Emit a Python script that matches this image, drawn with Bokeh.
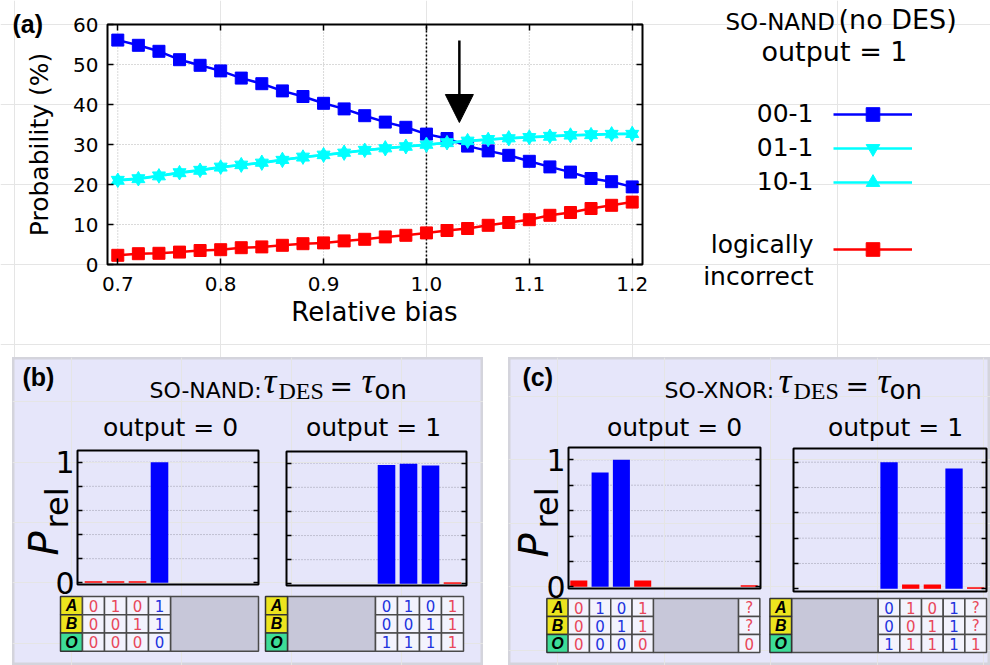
import math
from bokeh.plotting import figure
from bokeh.models import (Range1d, LinearAxis, FixedTicker, Label, Legend, LegendItem,
                          Arrow, NormalHead, BoxAnnotation, Spacer)
from bokeh.layouts import row, column
from bokeh.embed import file_html
from bokeh.resources import INLINE
from bokeh.core.properties import value

FONT = "DejaVu Sans"
SERIF = "Liberation Serif"
BOLD = "Liberation Sans"
BLUE = "#0000ff"
CYAN = "#00ffff"
RED = "#ff0000"
LAV = "#e6e6fa"
TAB_RED = "#e8485a"
TAB_BLUE = "#2233dd"

# ---------------- data: panel (a) ----------------
bias = [0.70, 0.72, 0.74, 0.76, 0.78, 0.80, 0.82, 0.84, 0.86, 0.88, 0.90, 0.92, 0.94,
        0.96, 0.98, 1.00, 1.02, 1.04, 1.06, 1.08, 1.10, 1.12, 1.14, 1.16, 1.18, 1.20]
p_00_1 = [56.1, 54.8, 53.3, 51.2, 49.8, 48.4, 46.6, 45.2, 43.4, 42.0, 40.3, 38.9, 37.2,
          35.6, 34.3, 32.6, 31.5, 29.6, 28.4, 27.3, 25.8, 24.4, 23.1, 21.5, 20.7, 19.4]
p_01_1 = [21.1, 21.5, 22.2, 23.0, 23.6, 24.4, 24.9, 25.4, 26.1, 26.9, 27.4, 27.9, 28.6,
          29.0, 29.5, 29.9, 30.5, 30.9, 31.3, 31.5, 31.8, 32.1, 32.3, 32.5, 32.6, 32.6]
p_10_1 = [21.0, 21.4, 22.1, 22.9, 23.5, 24.3, 24.9, 25.5, 26.2, 26.8, 27.4, 28.0, 28.5,
          29.1, 29.5, 30.0, 30.4, 30.9, 31.2, 31.6, 31.8, 32.0, 32.3, 32.4, 32.6, 32.7]
p_wrong = [2.3, 2.7, 2.8, 3.1, 3.5, 3.7, 4.2, 4.4, 4.8, 5.2, 5.4, 5.9, 6.3,
           6.9, 7.3, 7.9, 8.5, 9.0, 9.8, 10.5, 11.2, 12.3, 13.0, 14.0, 14.8, 15.6]
a_x_lim = (0.69, 1.21)
a_y_lim = (0, 60)
a_x_ticks = [0.7, 0.8, 0.9, 1.0, 1.1, 1.2]
a_x_tick_labels = ["0.7", "0.8", "0.9", "1.0", "1.1", "1.2"]
a_y_ticks = [0, 10, 20, 30, 40, 50, 60]
legend_labels = ["00-1", "01-1", "10-1"]
marked_bias = 1.0
arrow_bias = 1.032
arrow_from, arrow_to = 56.0, 35.5

# ---------------- data: panels (b), (c) ----------------
prel_ticks = [0, 1]
prel_minor = [0.2, 0.4, 0.6, 0.8]
prel_all = [0, 0.2, 0.4, 0.6, 0.8, 1.0]
prel_grid = [0.2, 0.4, 0.6, 0.8, 1.0]
row_names = ["A", "B", "O"]
row_pos = [3, 2, 1]

b0_cols = [1, 2, 3, 4]
b0_prob = [0.012, 0.012, 0.012, 1.00]
b0_A = ["0", "1", "0", "1"]
b0_B = ["0", "0", "1", "1"]
b0_O = ["0", "0", "0", "0"]
b0_ok = [False, False, False, True]

b1_cols = [5, 6, 7, 8]
b1_prob = [0.985, 0.995, 0.98, 0.012]
b1_A = ["0", "1", "0", "1"]
b1_B = ["0", "0", "1", "1"]
b1_O = ["1", "1", "1", "1"]
b1_ok = [True, True, True, False]

c0_cols = [1, 2, 3, 4, 9]
c0_prob = [0.05, 0.90, 1.00, 0.05, 0.012]
c0_A = ["0", "1", "0", "1", "?"]
c0_B = ["0", "0", "1", "1", "?"]
c0_O = ["0", "0", "0", "0", "0"]
c0_ok = [False, True, True, False, False]

c1_cols = [5, 6, 7, 8, 9]
c1_prob = [1.00, 0.034, 0.034, 0.95, 0.012]
c1_A = ["0", "1", "0", "1", "?"]
c1_B = ["0", "0", "1", "1", "?"]
c1_O = ["1", "1", "1", "1", "1"]
c1_ok = [True, False, False, True, False]


def lin(v_a, p_a, v_b, p_b):
    return lambda p: v_a + (p - p_a) * (v_b - v_a) / (p_b - p_a)


def rng(f, total):
    a, b = f(0), f(total)
    return Range1d(min(a, b), max(a, b))


def add_grid(p, dim, ticks, cross, color, dash, xn="default", yn="default"):
    n = len(ticks)
    if dim == 0:
        p.segment(x0=ticks, x1=ticks, y0=[cross[0]] * n, y1=[cross[1]] * n,
                  line_color=color, line_dash=dash, line_width=1,
                  x_range_name=xn, y_range_name=yn, level="underlay")
    else:
        p.segment(x0=[cross[0]] * n, x1=[cross[1]] * n, y0=ticks, y1=ticks,
                  line_color=color, line_dash=dash, line_width=1,
                  x_range_name=xn, y_range_name=yn, level="underlay")


def bare_figure(w, h, xr, yr, **kw):
    p = figure(width=w, height=h, x_range=xr, y_range=yr, output_backend="svg",
               toolbar_location=None, x_axis_location=None, y_axis_location=None,
               min_border=0, **kw)
    p.title.text = ""
    p.title.visible = False
    return p


def frame_box(left, right, bottom, top, **kw):
    return BoxAnnotation(left=left, right=right, bottom=bottom, top=top,
                         fill_color=None, fill_alpha=0, line_color="black",
                         line_alpha=1.0, line_width=2, **kw)


# ================= panel (a) =================
WA, HA = 990, 357
FL, FR, FT, FB = 107, 642, 24, 264
fx = lin(a_x_lim[0], FL, a_x_lim[1], FR)
fy = lin(a_y_lim[1], FT, a_y_lim[0], FB)
pa = bare_figure(WA, HA, rng(fx, WA), rng(fy, HA))
pa.outline_line_color = None
pa.background_fill_color = "white"

tick_kw = dict(axis_line_color=None, major_tick_out=0, minor_tick_out=0,
               major_tick_line_color="black", minor_tick_line_color="black",
               major_tick_line_width=1.5, minor_tick_line_width=1.5)
ax_bottom = LinearAxis(fixed_location=a_y_lim[0], ticker=FixedTicker(ticks=a_x_ticks),
                       major_label_overrides=dict(zip(a_x_ticks, a_x_tick_labels)),
                       major_tick_in=6, major_label_standoff=12,
                       major_label_text_font=FONT, major_label_text_font_size="20px",
                       major_label_text_color="black", **tick_kw)
ax_bottom.minor_tick_line_color = None
pa.add_layout(ax_bottom, "below")
ax_left = LinearAxis(fixed_location=a_x_lim[0], ticker=FixedTicker(ticks=a_y_ticks),
                     major_tick_in=6, major_label_standoff=9,
                     major_label_text_font=FONT, major_label_text_font_size="20px",
                     major_label_text_color="black", **tick_kw)
ax_left.minor_tick_line_color = None
pa.add_layout(ax_left, "left")
pa.add_layout(LinearAxis(fixed_location=a_y_lim[1], ticker=FixedTicker(ticks=[], minor_ticks=a_x_ticks),
                         minor_tick_in=6, major_label_standoff=0, **tick_kw), "above")
pa.add_layout(LinearAxis(fixed_location=a_x_lim[1], ticker=FixedTicker(ticks=[], minor_ticks=a_y_ticks),
                         minor_tick_in=6, major_label_standoff=0, **tick_kw), "right")

add_grid(pa, 0, a_x_ticks, a_y_lim, "#b4b4b4", "1 2")
add_grid(pa, 1, a_y_ticks[1:-1], a_x_lim, "#b4b4b4", "1 2")

pa.segment(x0=[marked_bias], x1=[marked_bias], y0=[a_y_lim[0]], y1=[a_y_lim[1]],
           line_color="black", line_dash="2 2", line_width=1.5)

l00 = pa.line(bias, p_00_1, line_color=BLUE, line_width=2.5)
s00 = pa.scatter(bias, p_00_1, marker="square", size=12, fill_color=BLUE, line_color=BLUE)
l01 = pa.line(bias, p_01_1, line_color=CYAN, line_width=2.5)
s01 = pa.scatter(bias, p_01_1, marker="inverted_triangle", size=13, fill_color=CYAN, line_color=CYAN)
l10 = pa.line(bias, p_10_1, line_color=CYAN, line_width=2.5)
s10 = pa.scatter(bias, p_10_1, marker="triangle", size=13, fill_color=CYAN, line_color=CYAN)
lw = pa.line(bias, p_wrong, line_color=RED, line_width=2.5)
sw = pa.scatter(bias, p_wrong, marker="square", size=12, fill_color=RED, line_color=RED)

pa.add_layout(frame_box(a_x_lim[0], a_x_lim[1], a_y_lim[0], a_y_lim[1]))

pa.add_layout(Arrow(end=NormalHead(size=28, fill_color="black", line_color="black"),
                    x_start=arrow_bias, y_start=arrow_from, x_end=arrow_bias, y_end=arrow_to,
                    line_color="black", line_width=2.5))

legend_kw = dict(glyph_width=79, glyph_height=34, spacing=0, padding=0, margin=0,
                 label_standoff=0, border_line_color=None, background_fill_alpha=0,
                 label_text_font_size="1px")
leg1 = Legend(items=[LegendItem(label="", renderers=[l00, s00]),
                     LegendItem(label="", renderers=[l01, s01]),
                     LegendItem(label="", renderers=[l10, s10])],
              location=(833, HA - 199), **legend_kw)
leg2 = Legend(items=[LegendItem(label="", renderers=[lw, sw])],
              location=(833, HA - 266), **legend_kw)
pa.add_layout(leg1)
pa.add_layout(leg2)


def alabel(text, px, py, size, align="left", font=FONT, style="normal", angle=0):
    pa.add_layout(Label(x=fx(px), y=fy(py), text=text, text_font=font, angle=angle,
                        text_font_size=size, text_font_style=style, text_align=align,
                        text_baseline="middle", text_color="black"))


alabel("(a)", 12, 23, "25px", font=BOLD, style="bold")
alabel("Probability (%)", 39, 144, "25px", align="center", angle=math.pi / 2)
alabel("Relative bias", 374, 311, "26px", align="center")
alabel("SO-NAND", 725, 21, "23px")
alabel("(no DES)", 838, 19, "27px")
alabel("output = 1", 834, 51, "27px", align="center")
for txt, cy in zip(legend_labels, [112, 146, 180]):
    alabel(txt, 813, cy, "25px", align="right")
alabel("logically", 813, 244, "25px", align="right")
alabel("incorrect", 813, 276, "25px", align="right")


# ================= panels (b), (c) =================
def panel(W, H, texts, prel, charts, table_rows):
    left, right = charts
    fxl = lin(*left["xmap"])
    fxr = lin(*right["xmap"])
    fyl = lin(0, left["ymap"][0], 1, left["ymap"][1])
    fyr = lin(0, right["ymap"][0], 1, right["ymap"][1])
    fyt = lin(3, table_rows[0], 1, table_rows[1])
    p = bare_figure(W, H, rng(fxl, W), rng(fyl, H),
                    extra_x_ranges={"right": rng(fxr, W), "px_x": Range1d(0, W)},
                    extra_y_ranges={"p_right": rng(fyr, H), "table": rng(fyt, H),
                                    "px_y": Range1d(H, 0)})
    p.background_fill_color = LAV
    p.border_fill_color = LAV
    p.outline_line_color = "#d4d4dc"
    p.outline_line_width = 4

    for ch, fxc, fyc, xn, yn in ((left, fxl, fyl, "default", "default"),
                                 (right, fxr, fyr, "right", "p_right")):
        l, r, t, b = ch["frame"]
        x0, x1, y0, y1 = fxc(l), fxc(r), fyc(b), fyc(t)
        add_grid(p, 1, prel_grid, (x0, x1), "#9a9aaa", "1 2", xn, yn)
        p.vbar(x=ch["cols"], top=ch["prob"], bottom=0, width=0.8,
               fill_color=[BLUE if o else RED for o in ch["ok"]], line_color=None,
               x_range_name=xn, y_range_name=yn)
        if ch["labelled"]:
            tk = FixedTicker(ticks=prel_ticks, minor_ticks=prel_minor)
        else:
            tk = FixedTicker(ticks=[], minor_ticks=prel_all)
        yax = LinearAxis(fixed_location=x0, ticker=tk, x_range_name=xn, y_range_name=yn,
                         major_tick_in=5, minor_tick_in=5, major_label_standoff=3,
                         major_label_text_font=FONT, major_label_text_font_size="30px",
                         major_label_text_color="black", **tick_kw)
        p.add_layout(yax, "left")
        p.add_layout(LinearAxis(fixed_location=x1, ticker=FixedTicker(ticks=[], minor_ticks=prel_all),
                                x_range_name=xn, y_range_name=yn, minor_tick_in=5,
                                major_label_standoff=0, **tick_kw), "right")
        p.add_layout(frame_box(x0, x1, y0, y1, x_range_name=xn, y_range_name=yn))
        # truth table
        missing = [c for c in range(1, ch["ncols"] + 1) if c not in ch["cols"]]
        lo, hi = min(missing), max(missing)
        p.rect(x=[(lo + hi) / 2], y=[2], width=hi - lo + 1, height=3,
               fill_color="#c7c7d9", line_color="#4a4a4a", line_width=1.5,
               x_range_name=xn, y_range_name="table")
        p.rect(x=[0, 0, 0], y=row_pos, width=1, height=1,
               fill_color=["#ece41e", "#ece41e", "#3ddc97"], line_color="#333333", line_width=1.5,
               x_range_name=xn, y_range_name="table")
        p.text(x=[0, 0, 0], y=row_pos, text=row_names, text_font=value(BOLD),
               text_font_style="bold italic", text_font_size="16px", text_color="black",
               text_align="center", text_baseline="middle", x_range_name=xn, y_range_name="table")
        xs, ys, ts, cs = [], [], [], []
        for vals, yy in zip([ch["A"], ch["B"], ch["O"]], row_pos):
            for c, v, o in zip(ch["cols"], vals, ch["ok"]):
                xs.append(c)
                ys.append(yy)
                ts.append(v)
                cs.append(TAB_BLUE if o else TAB_RED)
        p.rect(x=xs, y=ys, width=1, height=1, fill_color="#f3f3fd",
               line_color="#4a4a4a", line_width=1.5, x_range_name=xn, y_range_name="table")
        p.text(x=xs, y=ys, text=ts, text_font=value(FONT), text_font_size="15px",
               text_color=cs, text_align="center", text_baseline="middle",
               x_range_name=xn, y_range_name="table")

    for txt, x, y, size, font, style, align in texts:
        p.add_layout(Label(x=x, y=y, text=txt, text_font=font, text_font_size=size,
                           text_font_style=style, text_align=align, text_baseline="middle",
                           text_color="black", x_range_name="px_x", y_range_name="px_y"))
    for txt, x, y, size, style in prel:
        p.add_layout(Label(x=x, y=y, text=txt, angle=math.pi / 2, text_font=FONT,
                           text_font_size=size, text_font_style=style, text_align="left",
                           text_baseline="middle", text_color="black",
                           x_range_name="px_x", y_range_name="px_y"))
    return p


def chart_spec(cols, prob, ok, A, B, O, ncols, xmap, ymap, frame, labelled):
    return dict(cols=cols, prob=prob, ok=ok, A=A, B=B, O=O, ncols=ncols,
                xmap=xmap, ymap=ymap, frame=frame, labelled=labelled)


hb_texts = [
    ("(b)", 10, 19, "25px", BOLD, "bold", "left"),
    ("SO-NAND:", 137, 32.5, "22px", FONT, "normal", "left"),
    ("\u03c4", 251, 23, "36px", SERIF, "italic", "left"),
    ("DES", 266, 33, "24px", SERIF, "normal", "left"),
    ("=", 317, 29, "28px", FONT, "normal", "left"),
    ("\u03c4", 349, 23, "36px", SERIF, "italic", "left"),
    ("on", 362, 32, "26px", FONT, "normal", "left"),
    ("output = 0", 158, 69.5, "25px", FONT, "normal", "center"),
    ("output = 1", 361, 69.5, "25px", FONT, "normal", "center"),
]
prel_b = [("P", 31, 198, "40px", "italic"), ("rel", 44, 171, "32px", "normal")]
spec_bl = chart_spec(b0_cols, b0_prob, b0_ok, b0_A, b0_B, b0_O, 8,
                     (1, 81, 8, 235), (225.3, 104.7), (65, 246, 93, 227), True)
spec_br = chart_spec(b1_cols, b1_prob, b1_ok, b1_A, b1_B, b1_O, 8,
                     (1, 286, 8, 440), (226.3, 105.7), (274, 454, 94, 228), False)
fig_b = panel(471, 308, hb_texts, prel_b, (spec_bl, spec_br), (248, 284.5))

hc_texts = [
    ("(c)", 14, 19, "25px", BOLD, "bold", "left"),
    ("SO-XNOR:", 156, 32.5, "22px", FONT, "normal", "left"),
    ("\u03c4", 270, 23, "36px", SERIF, "italic", "left"),
    ("DES", 285, 33, "24px", SERIF, "normal", "left"),
    ("=", 337, 29, "28px", FONT, "normal", "left"),
    ("\u03c4", 369, 23, "36px", SERIF, "italic", "left"),
    ("on", 381, 32, "26px", FONT, "normal", "left"),
    ("output = 0", 166, 69.5, "25px", FONT, "normal", "center"),
    ("output = 1", 387, 69.5, "25px", FONT, "normal", "center"),
]
prel_c = [("P", 25, 200, "40px", "italic"), ("rel", 38, 171, "32px", "normal")]
spec_cl = chart_spec(c0_cols, c0_prob, c0_ok, c0_A, c0_B, c0_O, 9,
                     (1, 70.3, 9, 240.7), (229.3, 102.3), (60, 252, 90, 231), True)
spec_cr = chart_spec(c1_cols, c1_prob, c1_ok, c1_A, c1_B, c1_O, 9,
                     (1, 293.9, 9, 467.2), (231.3, 104.7), (285, 478, 91, 234), False)
fig_c = panel(482, 308, hc_texts, prel_c, (spec_cl, spec_cr), (250, 286))

bottom = row(Spacer(width=12, height=308), fig_b, Spacer(width=25, height=308), fig_c)
page = column(pa, bottom)

open("out.html", "w").write(file_html(page, INLINE))
